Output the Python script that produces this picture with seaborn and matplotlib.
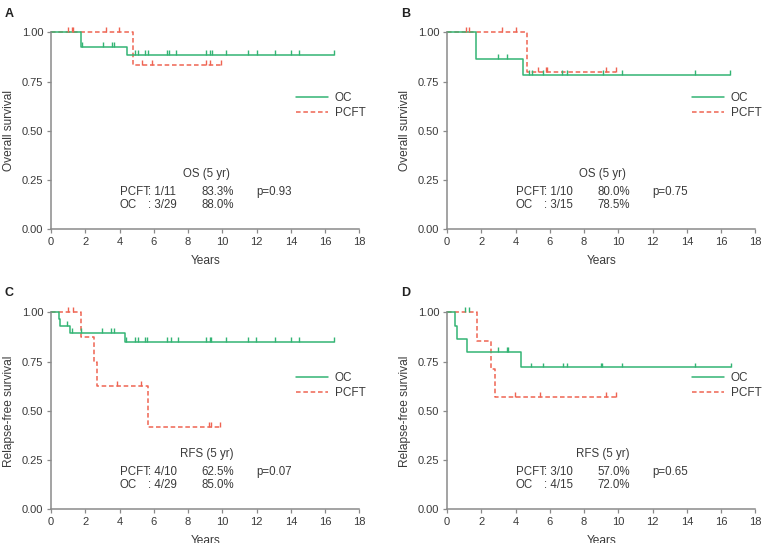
import numpy as np
import pandas as pd
import matplotlib
matplotlib.use("Agg")
import matplotlib.pyplot as plt
from matplotlib.lines import Line2D
import seaborn as sns

# ---- data (step start times, survival level) ----
# A: overall survival, all patients
oc_a_times = [0, 1.75, 4.43]
oc_a_surv = [1.0, 0.926, 0.883]
oc_a_end = 16.55
oc_a_cens = [1.8, 3.05, 3.55, 3.65, 4.9, 5.1, 5.5, 5.65, 6.8, 6.9, 7.3, 9.05, 9.3, 9.4,
             10.2, 11.5, 12.0, 13.1, 14.0, 14.5, 16.55]
pcft_a_times = [0, 4.76]
pcft_a_surv = [1.0, 0.833]
pcft_a_end = 9.9
pcft_a_cens = [1.0, 1.2, 1.3, 3.2, 3.95, 5.3, 5.9, 9.05, 9.3, 9.9]

# B: overall survival, subgroup
oc_b_times = [0, 1.69, 4.44]
oc_b_surv = [1.0, 0.866, 0.783]
oc_b_end = 16.5
oc_b_cens = [3.0, 3.5, 4.8, 4.95, 5.6, 6.7, 7.0, 9.1, 10.2, 14.5, 16.5]
pcft_b_times = [0, 4.69]
pcft_b_surv = [1.0, 0.80]
pcft_b_end = 9.85
pcft_b_cens = [1.1, 1.3, 3.2, 4.0, 5.3, 5.75, 5.85, 9.3, 9.85]

# C: relapse-free survival, all patients
oc_c_times = [0, 0.45, 0.55, 1.1, 4.32]
oc_c_surv = [1.0, 0.964, 0.93, 0.893, 0.851]
oc_c_end = 16.55
oc_c_cens = [0.95, 1.2, 1.75, 2.95, 3.5, 3.65, 4.4, 4.9, 5.05, 5.5, 5.6, 6.8, 7.0, 7.4,
             9.05, 9.3, 9.35, 10.2, 11.5, 11.95, 13.1, 14.0, 14.5, 16.55]
pcft_c_times = [0, 1.73, 2.49, 2.70, 5.66]
pcft_c_surv = [1.0, 0.875, 0.75, 0.625, 0.417]
pcft_c_end = 9.85
pcft_c_cens = [1.0, 1.3, 3.85, 5.25, 9.25, 9.35, 9.85]

# D: relapse-free survival, subgroup
oc_d_times = [0, 0.48, 0.58, 1.16, 4.34]
oc_d_surv = [1.0, 0.933, 0.867, 0.80, 0.72]
oc_d_end = 16.55
oc_d_cens = [3.0, 3.5, 3.55, 4.9, 5.6, 6.75, 7.0, 9.0, 9.05, 10.2, 14.45, 16.55]
oc_d_top_ticks = [1.05, 1.3]   # green ticks drawn on the 1.00 line
pcft_d_times = [0, 1.77, 2.58, 2.81]
pcft_d_surv = [1.0, 0.857, 0.714, 0.571]
pcft_d_end = 9.85
pcft_d_cens = [3.95, 5.45, 9.3, 9.85]

panel_letters = ["A", "B", "C", "D"]
ylabels = ["Overall survival", "Overall survival", "Relapse-free survival", "Relapse-free survival"]
box_titles = ["OS (5 yr)", "OS (5 yr)", "RFS (5 yr)", "RFS (5 yr)"]
pcft_counts = [": 1/11", ": 1/10", ": 4/10", ": 3/10"]
oc_counts = [": 3/29", ": 3/15", ": 4/29", ": 4/15"]
pcft_rates = ["83.3%", "80.0%", "62.5%", "57.0%"]
oc_rates = ["88.0%", "78.5%", "85.0%", "72.0%"]
p_values = ["p=0.93", "p=0.75", "p=0.07", "p=0.65"]

GREEN = "#33b474"
RED = "#ef6452"
TXT = "#3a3a3a"
AXC = "#8a8a8a"

sns.set_style("ticks")
plt.rcParams["font.family"] = ["Liberation Sans", "DejaVu Sans"]


def step_frame(times, surv, end, group):
    return pd.DataFrame({"Years": list(times) + [end],
                         "Survival": list(surv) + [surv[-1]],
                         "Group": group})


def levels_at(times, surv, cens):
    idx = np.searchsorted(times, cens, side="right") - 1
    return np.asarray(surv)[idx]


panels = [
    (oc_a_times, oc_a_surv, oc_a_end, oc_a_cens, pcft_a_times, pcft_a_surv, pcft_a_end, pcft_a_cens),
    (oc_b_times, oc_b_surv, oc_b_end, oc_b_cens, pcft_b_times, pcft_b_surv, pcft_b_end, pcft_b_cens),
    (oc_c_times, oc_c_surv, oc_c_end, oc_c_cens, pcft_c_times, pcft_c_surv, pcft_c_end, pcft_c_cens),
    (oc_d_times, oc_d_surv, oc_d_end, oc_d_cens, pcft_d_times, pcft_d_surv, pcft_d_end, pcft_d_cens),
]

fig = plt.figure(figsize=(7.66, 5.43), dpi=100)
lefts = [0.0666, 0.5836, 0.0666, 0.5836]
bottoms = [0.5777, 0.5777, 0.062, 0.062]
w, h = 0.4025, 0.3628
letter_pos = [(0.006, 0.985), (0.524, 0.985), (0.006, 0.472), (0.524, 0.472)]

for i, (ot, os_, oe, oc_c, pt, ps, pe, pc) in enumerate(panels):
    ax = fig.add_axes([lefts[i], bottoms[i], w, h])
    df = pd.concat([step_frame(pt, ps, pe, "PCFT"), step_frame(ot, os_, oe, "OC")])
    sns.lineplot(data=df, x="Years", y="Survival", hue="Group", style="Group",
                 palette={"OC": GREEN, "PCFT": RED},
                 dashes={"OC": "", "PCFT": (3, 1.8)},
                 drawstyle="steps-post", estimator=None, sort=False,
                 linewidth=1.1, legend=False, ax=ax, clip_on=False)
    # censoring ticks
    tick_h = 0.025
    lv = levels_at(ot, os_, oc_c)
    ax.vlines(oc_c, lv, lv + tick_h, color=GREEN, lw=1.0, clip_on=False)
    lv = levels_at(pt, ps, pc)
    ax.vlines(pc, lv, lv + tick_h, color=RED, lw=1.0, clip_on=False)
    if i == 3:
        ax.vlines(oc_d_top_ticks, 1.0, 1.0 + tick_h, color=GREEN, lw=1.0, clip_on=False)

    ax.set_xlim(0, 18)
    ax.set_ylim(0, 1.0)
    ax.set_xticks(np.arange(0, 19, 2))
    ax.set_yticks([0, 0.25, 0.5, 0.75, 1.0])
    ax.set_yticklabels(["0.00", "0.25", "0.50", "0.75", "1.00"])
    ax.tick_params(labelsize=8, colors=AXC, labelcolor=TXT, length=3, width=0.9, pad=2.5)
    for s in ["left", "bottom"]:
        ax.spines[s].set_color(AXC)
        ax.spines[s].set_linewidth(1.1)
    sns.despine(ax=ax)
    ax.set_xlabel("Years", fontsize=8.6, color=TXT, labelpad=6)
    ax.set_ylabel(ylabels[i], fontsize=8.6, color=TXT, labelpad=5)

    # summary box
    ax.text(9.1, 0.28, box_titles[i], fontsize=8.3, color=TXT, ha="center", va="center")
    ax.text(4.0, 0.19, "PCFT", fontsize=8.3, color=TXT, va="center")
    ax.text(5.68, 0.19, pcft_counts[i], fontsize=8.3, color=TXT, va="center")
    ax.text(4.0, 0.125, "OC", fontsize=8.3, color=TXT, va="center")
    ax.text(5.68, 0.125, oc_counts[i], fontsize=8.3, color=TXT, va="center")
    ax.text(8.8, 0.19, pcft_rates[i], fontsize=8.3, color=TXT, va="center")
    ax.text(8.8, 0.125, oc_rates[i], fontsize=8.3, color=TXT, va="center")
    ax.text(12.0, 0.19, p_values[i], fontsize=8.3, color=TXT, va="center")

    handles = [Line2D([], [], color=GREEN, lw=1.1),
               Line2D([], [], color=RED, lw=1.1, dashes=(3, 1.8))]
    ax.legend(handles, ["OC", "PCFT"], loc="upper left", bbox_to_anchor=(0.794, 0.695),
              frameon=False, fontsize=8.5, handlelength=2.7, handletextpad=0.6,
              labelspacing=0.25, borderpad=0, borderaxespad=0, labelcolor=TXT)

    fig.text(letter_pos[i][0], letter_pos[i][1], panel_letters[i], fontsize=9,
             fontweight="bold", color="#222222", va="top")

fig.savefig("out.png", dpi=100)
